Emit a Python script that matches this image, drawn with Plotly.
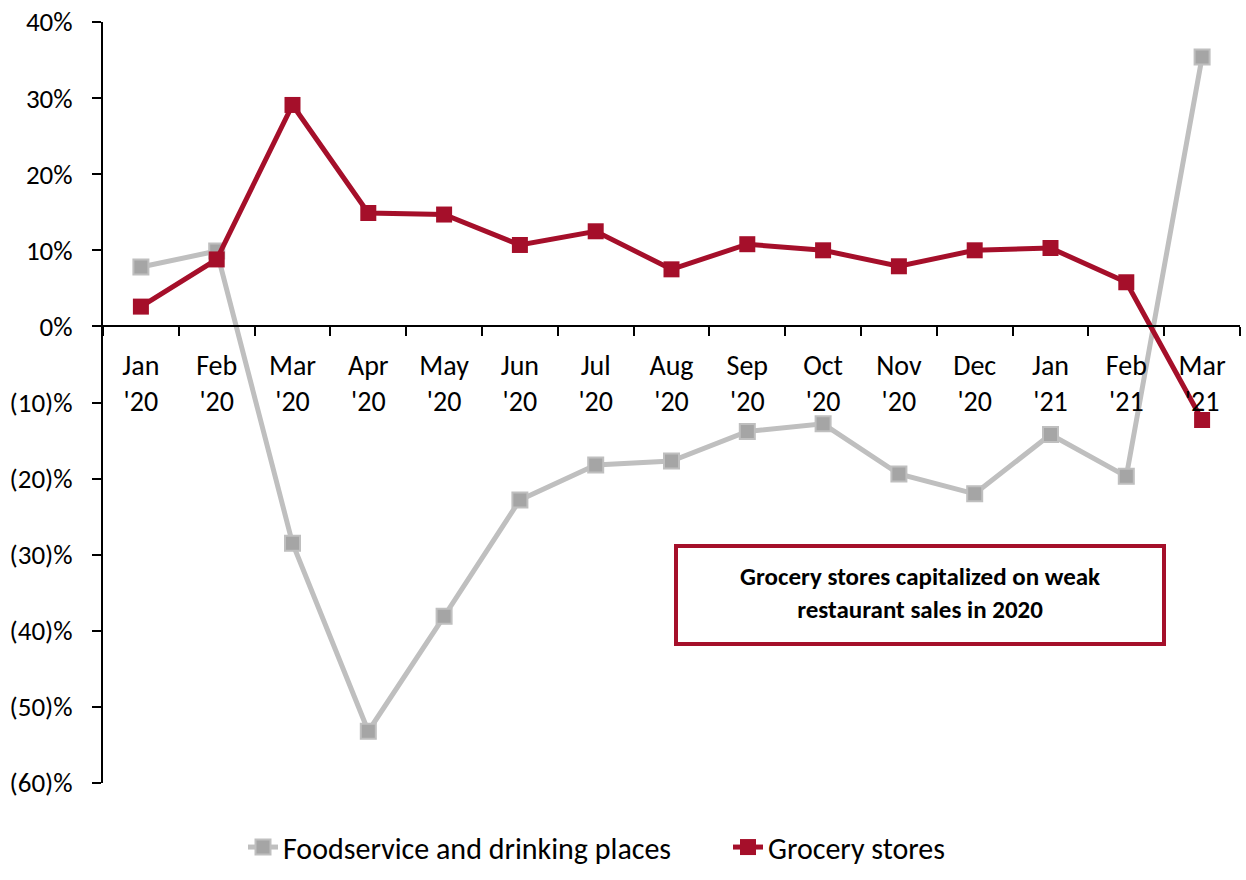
import plotly.graph_objects as go

months = ["Jan<br>'20", "Feb<br>'20", "Mar<br>'20", "Apr<br>'20", "May<br>'20", "Jun<br>'20",
          "Jul<br>'20", "Aug<br>'20", "Sep<br>'20", "Oct<br>'20", "Nov<br>'20", "Dec<br>'20",
          "Jan<br>'21", "Feb<br>'21", "Mar<br>'21"]
foodservice = [7.8, 9.9, -28.5, -53.2, -38.1, -22.8, -18.2, -17.7, -13.8, -12.8, -19.4, -22.0, -14.2, -19.7, 35.4]
grocery = [2.6, 8.8, 29.1, 14.9, 14.7, 10.7, 12.5, 7.5, 10.8, 10.0, 7.9, 10.0, 10.3, 5.8, -12.3]
ytick_vals = [40, 30, 20, 10, 0, -10, -20, -30, -40, -50, -60]
ytick_text = ["40%", "30%", "20%", "10%", "0%", "(10)%", "(20)%", "(30)%", "(40)%", "(50)%", "(60)%"]
note_text = "Grocery stores capitalized on weak<br>restaurant sales in 2020"

FONT = "Carlito, Calibri, Lato, sans-serif"
GRAY_LINE = "#bfbfbf"
GRAY_MARK = "#a5a5a5"
RED = "#a50f2a"

fig = go.Figure()
fig.add_trace(go.Scatter(
    x=months, y=foodservice, mode="lines+markers", name="Foodservice and drinking places",
    line=dict(color=GRAY_LINE, width=5),
    marker=dict(symbol="square", size=15, color=GRAY_MARK, line=dict(color=GRAY_LINE, width=2)),
))
fig.add_trace(go.Scatter(
    x=months, y=grocery, mode="lines+markers", name="Grocery stores",
    line=dict(color=RED, width=5),
    marker=dict(symbol="square", size=16, color=RED, line=dict(color=RED, width=0)),
))

fig.update_layout(
    width=1246, height=880,
    margin=dict(l=103, r=6, t=22, b=97),
    paper_bgcolor="white", plot_bgcolor="white",
    font=dict(family=FONT, size=26, color="black"),
    showlegend=True,
    legend=dict(orientation="h", x=(243 - 103) / 1137, xanchor="left", y=-0.05, yanchor="top",
                font=dict(size=30), tracegroupgap=0, entrywidth=440),
    xaxis=dict(
        type="category", range=[-0.5, 14.5], anchor="free", position=0.6,
        showline=True, linecolor="black", linewidth=2,
        ticks="outside", tickson="boundaries", ticklen=9, tickwidth=2, tickcolor="black",
        showgrid=False, zeroline=False, tickfont=dict(size=28), ticklabelstandoff=14,
    ),
    yaxis=dict(
        range=[-60, 40], tickvals=ytick_vals, ticktext=ytick_text,
        showline=True, linecolor="black", linewidth=2,
        ticks="outside", ticklen=9, tickwidth=2, tickcolor="black",
        showgrid=False, zeroline=False, tickfont=dict(size=27), ticklabelstandoff=14,
    ),
    shapes=[dict(type="rect", xref="paper", yref="paper",
                 x0=(676 - 103) / 1137, x1=(1164 - 103) / 1137,
                 y0=(783 - 644) / 761, y1=(783 - 546) / 761,
                 line=dict(color=RED, width=4), fillcolor="white")],
    annotations=[dict(xref="paper", yref="paper", x=(920 - 103) / 1137, y=(783 - 593) / 761,
                      xanchor="center", yanchor="middle", text="<b>" + note_text + "</b>",
                      showarrow=False, font=dict(size=25, color="black"), align="center")],
)

fig.write_html("out.html")
